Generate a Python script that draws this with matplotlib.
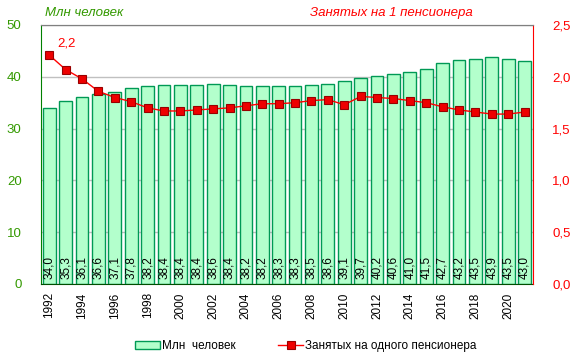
import matplotlib.pyplot as plt
import numpy as np

plt.rcParams['font.family'] = ['Liberation Sans', 'DejaVu Sans']

years = list(range(1992, 2022))
workers_mln = [34.0, 35.3, 36.1, 36.6, 37.1, 37.8, 38.2, 38.4, 38.4, 38.4,
               38.6, 38.4, 38.2, 38.2, 38.3, 38.3, 38.5, 38.6, 39.1, 39.7,
               40.2, 40.6, 41.0, 41.5, 42.7, 43.2, 43.5, 43.9, 43.5, 43.0]
per_pensioner = [2.21, 2.07, 1.98, 1.86, 1.80, 1.76, 1.70, 1.67, 1.67, 1.68,
                 1.69, 1.70, 1.72, 1.74, 1.74, 1.75, 1.77, 1.78, 1.73, 1.81,
                 1.80, 1.79, 1.77, 1.75, 1.71, 1.68, 1.66, 1.64, 1.64, 1.66]

green_txt = '#339900'
red = '#ff0000'

fig = plt.figure(figsize=(5.76, 3.62), dpi=100)
ax = fig.add_axes([0.0712, 0.2155, 0.8538, 0.7155])
x = np.arange(len(years))

bars = ax.bar(x, workers_mln, width=0.78, color='#b3ffcc', edgecolor='#009955',
              linewidth=1.0, label='Млн  человек', zorder=2)
for xi, v in zip(x, workers_mln):
    ax.text(xi, 1.0, f"{v:.1f}".replace('.', ','), rotation=90, ha='center',
            va='bottom', fontsize=8.5, color='black', zorder=3)

ax.set_xlim(-0.5, len(years) - 0.5)
ax.set_ylim(0, 50)
ax.set_yticks(range(0, 51, 10))
ax.yaxis.grid(True, color='#c0c0c0', linewidth=1.0, zorder=0)
ax.set_axisbelow(True)
ax.tick_params(axis='y', colors=green_txt, labelsize=9.5, length=0, pad=14)
ax.set_xticks(x[::2])
ax.set_xticklabels([str(y) for y in years[::2]], rotation=90, fontsize=8.5)
ax.tick_params(axis='x', length=0, pad=6)

ax2 = ax.twinx()
line, = ax2.plot(x, per_pensioner, color=red, linewidth=1.0, marker='s',
                 markersize=6, markerfacecolor='#ee0000',
                 markeredgecolor='#990000', markeredgewidth=0.8,
                 label='Занятых на одного пенсионера', zorder=4)
ax2.set_ylim(0, 2.5)
ax2.set_yticks(np.arange(0, 2.51, 0.5))
ax2.set_yticklabels([f"{t:.1f}".replace('.', ',') for t in np.arange(0, 2.51, 0.5)])
ax2.tick_params(axis='y', colors=red, labelsize=9.5, length=0, pad=14)
ax2.annotate('2,2', (x[0], per_pensioner[0]), xytext=(6, 6),
             textcoords='offset points', color=red, fontsize=9.5)

ax.spines['left'].set_color('#008000')
ax.spines['bottom'].set_color('#004d00')
ax.spines['top'].set_color('#808080')
ax2.spines['right'].set_color(red)
ax2.spines['left'].set_visible(False)
ax2.spines['top'].set_color('#808080')
ax2.spines['bottom'].set_visible(False)
ax.spines['right'].set_visible(False)

fig.text(0.078, 0.963, 'Млн человек', color=green_txt, fontsize=9.5,
         style='italic', ha='left', va='center')
fig.text(0.82, 0.963, 'Занятых на 1 пенсионера', color=red, fontsize=9.5,
         style='italic', ha='right', va='center')

fig.legend([bars, line], ['Млн  человек', 'Занятых на одного пенсионера'],
           loc='center', bbox_to_anchor=(0.531, 0.044), ncol=2,
           frameon=False, fontsize=8.5, handlelength=2.1, handleheight=0.6,
           columnspacing=3.6, handletextpad=0.2, borderpad=0)

fig.savefig('out.png', dpi=100)
